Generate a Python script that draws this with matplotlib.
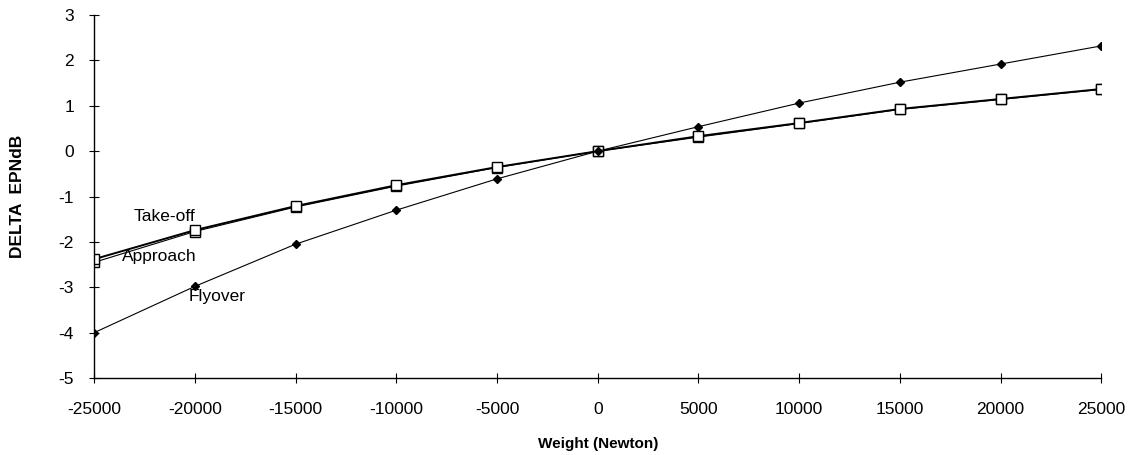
import numpy as np
import matplotlib
matplotlib.use("Agg")
from matplotlib import pyplot as plt

plt.rcParams['font.family'] = ['Liberation Sans', 'DejaVu Sans']
plt.rcParams['axes.unicode_minus'] = False

# data
weight = np.array([-25000, -20000, -15000, -10000, -5000, 0, 5000, 10000, 15000, 20000, 25000])
takeoff = np.array([-2.38, -1.74, -1.21, -0.75, -0.35, 0.0, 0.33, 0.62, 0.93, 1.15, 1.37])
approach = np.array([-2.45, -1.77, -1.23, -0.77, -0.36, 0.0, 0.31, 0.61, 0.92, 1.14, 1.36])
flyover = np.array([-4.0, -2.98, -2.05, -1.30, -0.61, 0.0, 0.54, 1.06, 1.52, 1.92, 2.32])

fig = plt.figure(figsize=(11.37, 4.55), dpi=100)
ax = fig.add_axes([0.0827, 0.169, 0.886, 0.798])

ax.plot(weight, approach, color='k', lw=0.8, marker='s', ms=7,
        mfc='white', mec='k', mew=1.0)
ax.plot(weight, takeoff, color='k', lw=1.4, marker='s', ms=7,
        mfc='white', mec='k', mew=1.0)
ax.plot(weight, flyover, color='k', lw=0.8, marker='D', ms=4.5,
        mfc='k', mec='k')

ax.text(-21500, -1.43, 'Take-off', fontsize=12.5, ha='center', va='center')
ax.text(-23600, -2.32, 'Approach', fontsize=12.5, ha='left', va='center')
ax.text(-20300, -3.2, 'Flyover', fontsize=12.5, ha='left', va='center')

ax.set_xlim(-25000, 25000)
ax.set_ylim(-5, 3)
ax.set_xticks(np.arange(-25000, 25001, 5000))
ax.set_yticks(np.arange(-5, 4, 1))
ax.tick_params(direction='inout', length=7, width=0.8, labelsize=12.5)
ax.tick_params(axis='x', pad=14)
ax.tick_params(axis='y', pad=11)

for s in ['top', 'right']:
    ax.spines[s].set_visible(False)
for s in ['left', 'bottom']:
    ax.spines[s].set_linewidth(1.0)

ax.set_xlabel('Weight (Newton)', fontsize=11, fontweight='bold', labelpad=14)
ax.set_ylabel('DELTA  EPNdB', fontsize=12.5, fontweight='bold', labelpad=24)

fig.savefig('out.png', dpi=100)
